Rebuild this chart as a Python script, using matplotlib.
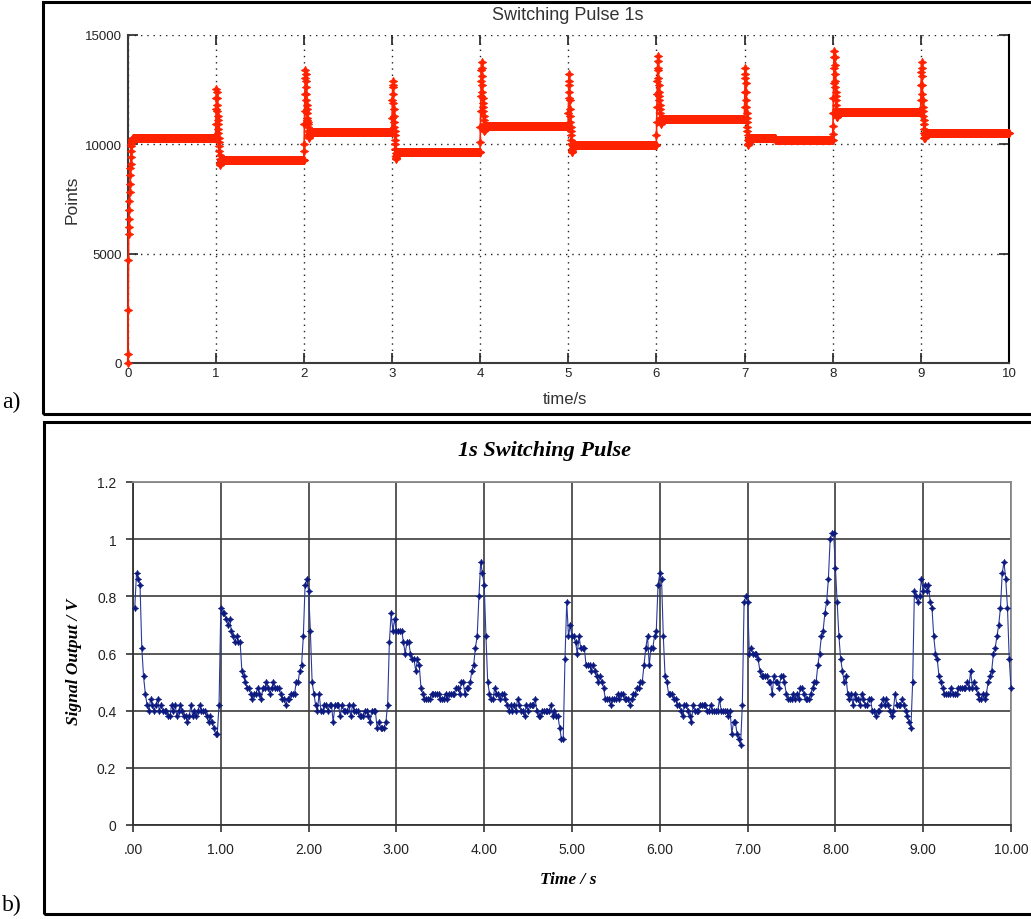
import numpy as np
import matplotlib.pyplot as plt
from matplotlib.patches import Rectangle

plt.rcParams['font.family'] = ['Liberation Sans', 'DejaVu Sans']

W, H = 1031, 920

def fx(px):
    return px / W

def fy(py):
    return 1 - py / H


# ---- a) counter output (points), 2.5 ms samples ----
red_dt = 0.0025
red_step_t = [0, 1, 2, 3, 4, 5, 6, 7, 7.35, 8, 9, 10]
red_level = [10270, 9280, 10560, 9620, 10840, 9940, 11150, 10280, 10200, 11480, 10500]
red_edge = [
    [0, 400, 2400, 4700, 5900, 6200, 6600, 7000, 7400, 7800, 8200, 8600, 8900, 9100,
     9400, 9700, 9900, 10000, 10100, 10150, 10200, 10230, 10250, 10260],
    [10900, 11600, 12100, 12540, 12400, 12100, 11800, 11500, 11300, 11100, 10900, 10700,
     10500, 10300, 10100, 9900, 9700, 9500, 9300, 9150, 9050, 9080, 9150, 9200, 9240, 9260],
    [9700, 10000, 10900, 11500, 12300, 13000, 13380, 13200, 12900, 12600, 12300, 12000,
     11800, 11600, 11400, 11200, 11100, 11000, 10900, 10800, 10600, 10450, 10330, 10300,
     10350, 10420, 10480, 10520, 10540],
    [11200, 12000, 12600, 12900, 12700, 12300, 11900, 11600, 11300, 11000, 10800, 10600,
     10400, 10200, 10000, 9800, 9600, 9450, 9350, 9320, 9380, 9450, 9520, 9570, 9600],
    [10100, 10800, 11500, 12200, 12900, 13400, 13730, 13500, 13100, 12700, 12400, 12100,
     11900, 11700, 11500, 11300, 11100, 10900, 10700, 10620, 10650, 10720, 10780, 10820],
    [11400, 12100, 12700, 13200, 12900, 12400, 12000, 11600, 11300, 11000, 10800, 10600,
     10400, 10200, 10000, 9800, 9650, 9620, 9680, 9760, 9840, 9900, 9920],
    [10400, 11000, 11700, 12300, 12900, 13500, 14040, 13800, 13400, 13000, 12700, 12400,
     12200, 12000, 11800, 11600, 11400, 11200, 11000, 10920, 10950, 11030, 11100, 11130],
    [11700, 12400, 13000, 13460, 13200, 12800, 12400, 12000, 11700, 11400, 11200, 11000,
     10800, 10600, 10400, 10200, 10000, 9960, 10050, 10150, 10230, 10270],
    [],
    [10460, 10840, 11400, 12100, 12800, 13500, 14000, 14270, 14000, 13600, 13200, 12900,
     12600, 12400, 12200, 12000, 11800, 11600, 11400, 11250, 11220, 11280, 11360, 11420, 11460],
    [12000, 12700, 13300, 13760, 13500, 13100, 12700, 12300, 12000, 11700, 11500, 11300,
     11100, 10900, 10700, 10500, 10300, 10260, 10320, 10400, 10460, 10490],
]

# ---- b) sensor output (V), one list per second, 20 ms samples ----
blue_0 = [0.76, 0.88, 0.86, 0.84, 0.62, 0.52, 0.46, 0.42, 0.40, 0.44,
          0.42, 0.40, 0.42, 0.44, 0.40, 0.42, 0.40, 0.40, 0.40, 0.38,
          0.38, 0.42, 0.40, 0.42, 0.38, 0.40, 0.42, 0.40, 0.38, 0.38,
          0.36, 0.38, 0.42, 0.38, 0.40, 0.38, 0.40, 0.42, 0.40, 0.40,
          0.40, 0.38, 0.36, 0.38, 0.36, 0.34, 0.32, 0.32, 0.42, 0.76]
blue_1 = [0.74, 0.74, 0.72, 0.70, 0.72, 0.68, 0.66, 0.64, 0.66, 0.64,
          0.64, 0.54, 0.52, 0.50, 0.48, 0.48, 0.46, 0.44, 0.46, 0.46,
          0.48, 0.46, 0.44, 0.48, 0.48, 0.50, 0.48, 0.46, 0.48, 0.50,
          0.48, 0.48, 0.48, 0.46, 0.44, 0.44, 0.42, 0.44, 0.44, 0.46,
          0.46, 0.46, 0.50, 0.50, 0.54, 0.56, 0.66, 0.84, 0.86, 0.82]
blue_2 = [0.68, 0.50, 0.46, 0.42, 0.40, 0.46, 0.40, 0.40, 0.42, 0.42,
          0.40, 0.42, 0.42, 0.36, 0.42, 0.42, 0.42, 0.38, 0.42, 0.40,
          0.40, 0.40, 0.42, 0.38, 0.42, 0.40, 0.40, 0.40, 0.38, 0.38,
          0.38, 0.40, 0.40, 0.38, 0.36, 0.40, 0.40, 0.40, 0.34, 0.36,
          0.34, 0.34, 0.34, 0.36, 0.42, 0.64, 0.74, 0.68, 0.72, 0.68]
blue_3 = [0.68, 0.68, 0.68, 0.64, 0.60, 0.64, 0.64, 0.60, 0.58, 0.58,
          0.54, 0.58, 0.56, 0.48, 0.46, 0.44, 0.44, 0.44, 0.44, 0.46,
          0.46, 0.46, 0.46, 0.46, 0.44, 0.44, 0.44, 0.46, 0.44, 0.46,
          0.46, 0.46, 0.46, 0.48, 0.48, 0.46, 0.50, 0.50, 0.46, 0.48,
          0.48, 0.50, 0.54, 0.56, 0.62, 0.66, 0.80, 0.92, 0.88, 0.84]
blue_4 = [0.66, 0.50, 0.46, 0.44, 0.44, 0.48, 0.46, 0.46, 0.44, 0.46,
          0.46, 0.44, 0.42, 0.40, 0.42, 0.40, 0.42, 0.40, 0.44, 0.42,
          0.40, 0.40, 0.38, 0.42, 0.40, 0.42, 0.42, 0.42, 0.44, 0.40,
          0.38, 0.38, 0.40, 0.40, 0.40, 0.40, 0.40, 0.42, 0.38, 0.40,
          0.38, 0.38, 0.34, 0.30, 0.30, 0.58, 0.78, 0.66, 0.70, 0.66]
blue_5 = [0.66, 0.64, 0.60, 0.66, 0.62, 0.62, 0.62, 0.56, 0.56, 0.56,
          0.54, 0.56, 0.54, 0.52, 0.50, 0.52, 0.50, 0.48, 0.44, 0.44,
          0.44, 0.42, 0.44, 0.44, 0.44, 0.46, 0.44, 0.46, 0.46, 0.44,
          0.44, 0.44, 0.42, 0.44, 0.46, 0.46, 0.48, 0.48, 0.50, 0.50,
          0.56, 0.62, 0.66, 0.56, 0.62, 0.62, 0.66, 0.68, 0.84, 0.88]
blue_6 = [0.86, 0.66, 0.52, 0.50, 0.46, 0.46, 0.46, 0.44, 0.44, 0.42,
          0.42, 0.40, 0.38, 0.42, 0.42, 0.40, 0.38, 0.36, 0.42, 0.40,
          0.40, 0.40, 0.42, 0.42, 0.42, 0.42, 0.40, 0.40, 0.42, 0.40,
          0.40, 0.40, 0.40, 0.44, 0.40, 0.40, 0.40, 0.40, 0.38, 0.40,
          0.32, 0.36, 0.36, 0.32, 0.30, 0.28, 0.42, 0.78, 0.80, 0.78]
blue_7 = [0.60, 0.62, 0.60, 0.60, 0.60, 0.58, 0.54, 0.52, 0.52, 0.52,
          0.52, 0.50, 0.50, 0.46, 0.52, 0.50, 0.50, 0.48, 0.52, 0.52,
          0.50, 0.46, 0.44, 0.44, 0.44, 0.46, 0.44, 0.46, 0.44, 0.48,
          0.48, 0.46, 0.44, 0.44, 0.44, 0.46, 0.48, 0.50, 0.50, 0.56,
          0.60, 0.66, 0.68, 0.74, 0.78, 0.86, 1.00, 1.02, 1.02, 0.90]
blue_8 = [0.78, 0.66, 0.58, 0.54, 0.50, 0.52, 0.46, 0.44, 0.46, 0.42,
          0.46, 0.44, 0.44, 0.42, 0.46, 0.44, 0.42, 0.42, 0.44, 0.44,
          0.40, 0.40, 0.38, 0.40, 0.40, 0.42, 0.44, 0.42, 0.44, 0.42,
          0.40, 0.38, 0.40, 0.46, 0.42, 0.42, 0.42, 0.44, 0.42, 0.40,
          0.38, 0.36, 0.34, 0.50, 0.82, 0.80, 0.78, 0.80, 0.86, 0.82]
blue_9 = [0.84, 0.82, 0.84, 0.78, 0.76, 0.66, 0.60, 0.58, 0.52, 0.50,
          0.48, 0.46, 0.46, 0.46, 0.46, 0.48, 0.46, 0.46, 0.46, 0.48,
          0.48, 0.48, 0.48, 0.48, 0.50, 0.48, 0.54, 0.48, 0.50, 0.48,
          0.46, 0.44, 0.44, 0.46, 0.44, 0.46, 0.50, 0.52, 0.54, 0.60,
          0.62, 0.66, 0.70, 0.76, 0.88, 0.92, 0.86, 0.76, 0.58, 0.48]
blue_dt = 0.02

b_xticks = [0, 1, 2, 3, 4, 5, 6, 7, 8, 9, 10]
b_xlabels = ['.00', '1.00', '2.00', '3.00', '4.00', '5.00', '6.00', '7.00', '8.00', '9.00', '10.00']
b_yticks = [0, 0.2, 0.4, 0.6, 0.8, 1.0, 1.2]
b_ylabels = ['0', '0.2', '0.4', '0.6', '0.8', '1', '1.2']


# build the sampled red trace: transient at each step, then flat level
red_t, red_v = [], []
for i, level in enumerate(red_level):
    t0, t1 = red_step_t[i], red_step_t[i + 1]
    head = red_edge[i]
    n = int(round((t1 - t0) / red_dt))
    vals = head + [level] * (n - len(head))
    red_t.extend(t0 + red_dt * np.arange(n))
    red_v.extend(vals)

blue_v = np.concatenate([blue_0, blue_1, blue_2, blue_3, blue_4,
                         blue_5, blue_6, blue_7, blue_8, blue_9])
blue_t = blue_dt * np.arange(1, len(blue_v) + 1)

fig = plt.figure(figsize=(W / 100, H / 100), dpi=100)

# panel frames
fig.add_artist(Rectangle((fx(42.5), fy(414.5)), 1.1, fy(3.3) - fy(414.5),
                         transform=fig.transFigure, fill=False, lw=2.2, ec='k'))
fig.add_artist(Rectangle((fx(43.5), fy(915)), 1.1, fy(423.3) - fy(915),
                         transform=fig.transFigure, fill=False, lw=2.2, ec='k'))

# ---------------- a) ----------------
ax1 = fig.add_axes([fx(127.7), fy(364), fx(1009) - fx(127.7), fy(35.7) - fy(364)])
ax1.plot(red_t, red_v, color='#ff2200', lw=1.2, marker=(4, 1, 0), ms=6, mew=0.6,
         mec='#ff2200', mfc='#ff2200', clip_on=False, zorder=3)
ax1.set_xlim(0, 10)
ax1.set_ylim(0, 15000)
ax1.set_xticks(range(0, 11))
ax1.set_yticks([0, 5000, 10000, 15000])
ax1.grid(True, ls=(0, (1, 3.5)), color='#222222', lw=1.0)
ax1.spines['top'].set_visible(False)
for s in ('left', 'bottom'):
    ax1.spines[s].set_color('#3a3a3a')
    ax1.spines[s].set_linewidth(1.5)
ax1.spines['right'].set_color('k')
ax1.spines['right'].set_linewidth(1.5)
ax1.tick_params(direction='in', length=7, width=1.2, top=True, right=True,
                labelsize=9.5, colors='#222222')
ax1.tick_params(axis='y', pad=4)
ax1.tick_params(axis='x', pad=3)

fig.text(fx(568), fy(16), 'Switching Pulse 1s', ha='center', va='center',
         fontsize=13, color='#333333')
fig.text(fx(72), fy(200), 'Points', ha='center', va='center', rotation=90,
         fontsize=12.5, color='#333333')
fig.text(fx(565), fy(399), 'time/s', ha='center', va='center',
         fontsize=12, color='#333333')
fig.text(fx(2), fy(402), 'a)', ha='left', va='center', fontsize=17,
         family='Liberation Serif')

# ---------------- b) ----------------
ax2 = fig.add_axes([fx(133), fy(826), fx(1011) - fx(133), fy(483) - fy(826)])
ax2.plot(blue_t, blue_v, color='#2a3a9a', lw=0.8, marker=(4, 1, 0), ms=4.5,
         mec='#0c1a80', mfc='#0c1a80', mew=0.5, clip_on=False, zorder=3)
ax2.set_xlim(0, 10)
ax2.set_ylim(0, 1.2)
ax2.set_xticks(b_xticks)
ax2.set_xticklabels(b_xlabels)
ax2.set_yticks(b_yticks)
ax2.set_yticklabels(b_ylabels)
ax2.grid(True, ls='-', color='#3c3c3c', lw=1.2)
ax2.set_axisbelow(True)
for s in ('left', 'bottom'):
    ax2.spines[s].set_color('#333333')
    ax2.spines[s].set_linewidth(1.3)
for s in ('top', 'right'):
    ax2.spines[s].set_color('#8a8a8a')
    ax2.spines[s].set_linewidth(1.3)
ax2.tick_params(direction='out', length=5, width=1.2, labelsize=10,
                colors='#333333', labelcolor='#222222')
ax2.tick_params(axis='y', pad=7)
ax2.tick_params(axis='x', pad=7)

fig.text(fx(544), fy(451), '1s Switching Pulse', ha='center', va='center',
         fontsize=16, family='Liberation Serif', weight='bold', style='italic')
fig.text(fx(74), fy(662), 'Signal Output / V', ha='center', va='center', rotation=90,
         fontsize=12.5, family='Liberation Serif', weight='bold', style='italic')
fig.text(fx(568), fy(880), 'Time / s', ha='center', va='center',
         fontsize=12.5, family='Liberation Serif', weight='bold', style='italic')
fig.text(fx(2), fy(905), 'b)', ha='left', va='center', fontsize=17,
         family='Liberation Serif')

fig.savefig('out.png', dpi=100)
